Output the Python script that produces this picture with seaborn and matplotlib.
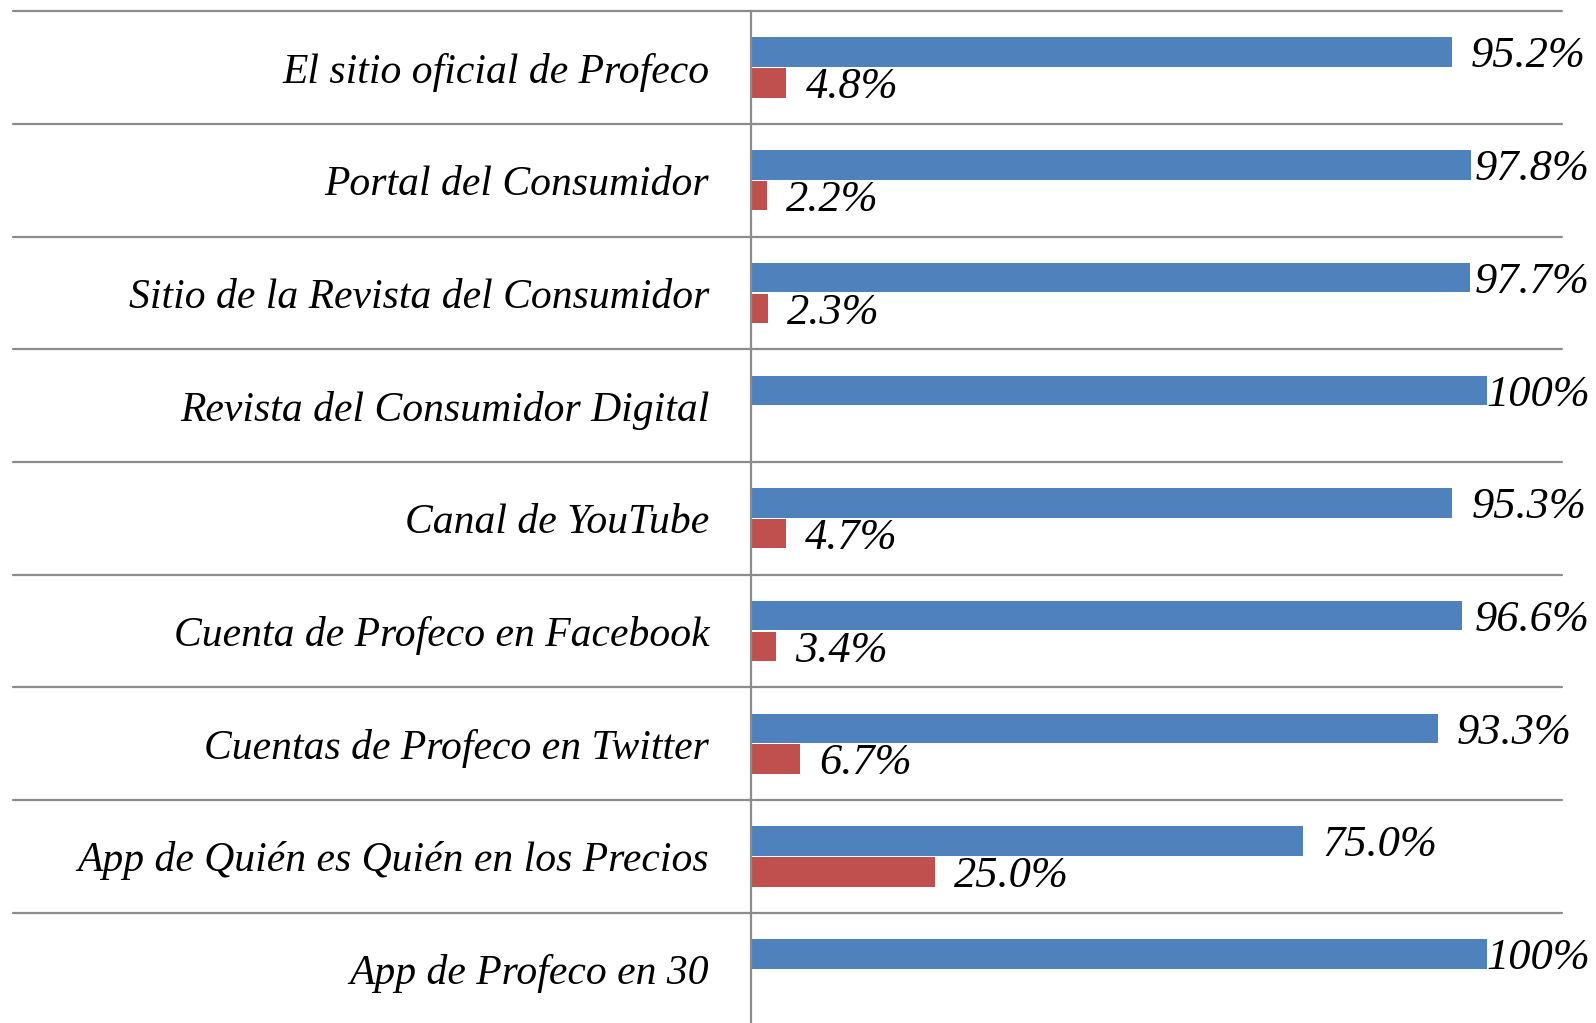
import pandas as pd
import numpy as np
import seaborn as sb
import matplotlib.pyplot as plt

## Data.
categories = ['El sitio oficial de Profeco',
              'Portal del Consumidor',
              'Sitio de la Revista del Consumidor',
              'Revista del Consumidor Digital',
              'Canal de YouTube',
              'Cuenta de Profeco en Facebook',
              'Cuentas de Profeco en Twitter',
              'App de Quién es Quién en los Precios',
              'App de Profeco en 30']
serie_azul = [95.2, 97.8, 97.7, 100.0, 95.3, 96.6, 93.3, 75.0, 100.0]
serie_roja = [4.8, 2.2, 2.3, None, 4.7, 3.4, 6.7, 25.0, None]
etiquetas_azul = ['95.2%', '97.8%', '97.7%', '100%', '95.3%', '96.6%', '93.3%', '75.0%', '100%']
etiquetas_roja = ['4.8%', '2.2%', '2.3%', '', '4.7%', '3.4%', '6.7%', '25.0%', '']
series = ['Si', 'No']

### Long format table.
rows = []
for c, a, r in zip(categories, serie_azul, serie_roja):
    rows.append({'cat': c, 'serie': series[0], 'valor': a})
    if r is not None:
        rows.append({'cat': c, 'serie': series[1], 'valor': r})
df = pd.DataFrame(rows)

## Plot.
sb.set_style('white')
plt.rcParams['font.family'] = ['Liberation Serif', 'DejaVu Serif']
plt.rcParams['text.color'] = 'black'
plt.rcParams['ytick.color'] = 'black'

azul = '#4F81BD'
rojo = '#C0504D'
gris = '#8C8C8C'
fs_cat = 30
fs_val = 32

fig = plt.figure(figsize=(15.96, 10.23), dpi=100)
ax = fig.add_axes([751/1596, 1 - 1025.5/1023, (1562-751)/1596, 1014.3/1023])

sb.barplot(data=df, y='cat', x='valor', hue='serie', order=categories,
           hue_order=series, palette=[azul, rojo], saturation=1, orient='h',
           width=0.545, gap=0.04, linewidth=0, legend=False, ax=ax)

ax.set_xlim(0, 110.2)
ax.set_ylim(len(categories) - 0.5, -0.5)
ax.set_xlabel('')
ax.set_ylabel('')
ax.set_xticks([])
ax.tick_params(axis='y', length=0, pad=30)
ax.set_yticks(range(len(categories)))
ax.set_yticklabels(categories, fontsize=fs_cat, fontstyle='italic', color='black')

for s in ['top', 'right', 'bottom']:
    ax.spines[s].set_visible(False)
ax.spines['left'].set_color(gris)
ax.spines['left'].set_linewidth(1.6)

### Horizontal separators, extending into label area.
x0 = -(751 - 13) / (1562 - 751)
for b in np.arange(-0.5, len(categories) - 0.6, 1.0):
    ax.plot([x0, 1], [b, b], transform=ax.get_yaxis_transform(),
            color=gris, lw=1.6, clip_on=False, zorder=0)

### Data labels.
fig.canvas.draw()
renderer = fig.canvas.get_renderer()
limite = 1590
for cont, etiquetas in zip(ax.containers, [etiquetas_azul, etiquetas_roja]):
    for bar in cont:
        w = bar.get_width()
        if not np.isfinite(w):
            continue
        yc = bar.get_y() + bar.get_height() / 2
        i = int(round(yc))
        lab = etiquetas[i]
        if lab == '':
            continue
        t = ax.text(w + 2.6, yc + 0.135, lab, fontsize=fs_val, fontstyle='italic',
                    va='baseline', ha='left', color='black', clip_on=False)
        bb = t.get_window_extent(renderer)
        if bb.x1 > limite:
            xe = ax.transData.inverted().transform((limite, 0))[0]
            t.set_x(xe)
            t.set_ha('right')

fig.savefig('out.png', dpi=100)
